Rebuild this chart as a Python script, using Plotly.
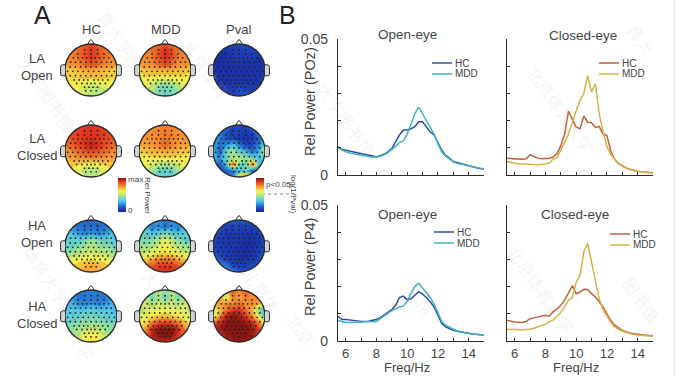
import plotly.graph_objects as go

W, H = 678, 376
def px(x): return x / W
def py(y): return 1 - y / H

# ---------- Panel B data ----------
FREQ = [5.5,5.75,6,6.25,6.5,6.75,7,7.25,7.5,7.75,8,8.25,8.5,8.75,9,9.25,9.5,9.75,10,10.25,10.5,10.75,11,11.25,11.5,11.75,12,12.25,12.5,12.75,13,13.25,13.5,13.75,14,14.25,14.5,14.75,15]

POZ_OPEN_HC = [.0103,.0094,.0091,.0088,.0085,.0082,.0079,.0077,.0075,.0070,.0066,.0070,.0076,.0085,.0097,.0122,.0147,.0165,.0165,.0170,.0178,.0196,.0196,.0177,.0159,.0147,.0116,.0091,.0073,.0060,.0050,.0046,.0042,.0037,.0033,.0030,.0027,.0024,.0022]
POZ_OPEN_MDD = [.0100,.0092,.0085,.0081,.0078,.0075,.0072,.0070,.0068,.0066,.0066,.0069,.0074,.0082,.0092,.0105,.0120,.0125,.0150,.0185,.0225,.0250,.0225,.0205,.0180,.0150,.0115,.0085,.0070,.0058,.0048,.0043,.0040,.0036,.0032,.0029,.0026,.0024,.0022]
POZ_CLOSED_HC = [.0062,.0060,.0059,.0059,.0058,.0060,.0074,.0068,.0062,.0060,.0060,.0062,.0066,.0078,.0108,.0150,.0235,.0205,.0176,.0170,.0217,.0194,.0192,.0175,.0178,.0151,.0145,.0089,.0058,.0043,.0033,.0026,.0021,.0017,.0014,.0012,.0010,.0009,.0008]
POZ_CLOSED_MDD = [.0050,.0046,.0043,.0041,.0040,.0040,.0039,.0038,.0038,.0039,.0040,.0045,.0058,.0064,.0090,.0120,.0150,.0195,.0235,.0275,.0300,.0365,.0305,.0335,.0225,.0160,.0105,.0075,.0058,.0043,.0032,.0025,.0020,.0016,.0013,.0011,.0009,.0008,.0007]
P4_OPEN_HC = [.0091,.0079,.0079,.0078,.0076,.0074,.0072,.0072,.0073,.0076,.0079,.0086,.0095,.0105,.0115,.0131,.0160,.0165,.0152,.0155,.0168,.0181,.0172,.0160,.0144,.0125,.0095,.0064,.0052,.0045,.0039,.0036,.0033,.0030,.0028,.0026,.0025,.0023,.0022]
P4_OPEN_MDD = [.0075,.0071,.0068,.0068,.0068,.0069,.0070,.0071,.0072,.0072,.0072,.0082,.0092,.0102,.0112,.0118,.0125,.0128,.0145,.0175,.0200,.0212,.0195,.0180,.0160,.0135,.0105,.0072,.0058,.0050,.0042,.0037,.0033,.0030,.0028,.0026,.0024,.0023,.0022]
P4_CLOSED_HC = [.0076,.0072,.0070,.0069,.0068,.0072,.0082,.0085,.0088,.0091,.0095,.0091,.0107,.0118,.0131,.0150,.0175,.0203,.0174,.0180,.0190,.0189,.0174,.0162,.0144,.0125,.0100,.0076,.0058,.0047,.0039,.0034,.0029,.0027,.0025,.0023,.0021,.0019,.0018]
P4_CLOSED_MDD = [.0043,.0042,.0041,.0041,.0041,.0042,.0043,.0047,.0052,.0057,.0062,.0070,.0078,.0090,.0105,.0125,.0150,.0160,.0215,.0242,.0328,.0358,.0290,.0215,.0155,.0115,.0090,.0070,.0052,.0043,.0036,.0031,.0027,.0024,.0022,.0020,.0019,.0018,.0017]

X_TICKS = [6,7,8,9,10,11,12,13,14,15]
X_LABELS = ["6","","8","","10","","12","","14",""]
Y_TICKS = [0,.01,.02,.03,.04,.05]
Y_LABELS = ["0","","","","","0.05"]

BLUE, TEAL, RUST, GOLD = "#2b4f9e", "#3fb2c2", "#bf6040", "#d6b244"

# ---------- Panel A data: scalp maps, front of head in first row ----------
GRID_X = [-1,-.75,-.5,-.25,0,.25,.5,.75,1]
GRID_Y = [1,.75,.5,.25,0,-.25,-.5,-.75,-1]

LA_OPEN_HC = [
[.80,.80,.82,.84,.88,.84,.82,.80,.80],
[.78,.80,.82,.86,.90,.86,.82,.80,.78],
[.76,.78,.80,.86,.90,.86,.80,.78,.76],
[.74,.76,.78,.82,.86,.82,.78,.76,.74],
[.66,.68,.70,.72,.73,.72,.70,.68,.66],
[.64,.66,.67,.68,.68,.68,.67,.66,.64],
[.62,.63,.62,.58,.56,.58,.60,.62,.62],
[.62,.62,.58,.52,.50,.50,.52,.58,.60],
[.62,.62,.60,.54,.52,.50,.50,.54,.58]]
LA_OPEN_MDD = [
[.78,.78,.80,.82,.86,.82,.80,.78,.78],
[.76,.78,.80,.86,.92,.86,.80,.78,.76],
[.76,.78,.79,.86,.92,.86,.79,.78,.76],
[.74,.76,.77,.82,.88,.82,.77,.76,.74],
[.66,.68,.70,.71,.72,.71,.70,.68,.66],
[.62,.64,.64,.62,.62,.62,.64,.64,.62],
[.60,.60,.55,.48,.46,.48,.55,.60,.60],
[.60,.58,.48,.40,.38,.40,.46,.56,.60],
[.62,.60,.50,.42,.38,.40,.46,.54,.60]]
LA_OPEN_P = [
[.08,.08,.08,.10,.12,.12,.10,.10,.08],
[.06,.06,.06,.08,.10,.10,.12,.10,.08],
[.05,.04,.05,.06,.08,.08,.08,.06,.06],
[.05,.04,.04,.05,.05,.05,.05,.05,.05],
[.05,.04,.04,.04,.05,.04,.04,.05,.05],
[.05,.04,.04,.04,.05,.04,.05,.05,.06],
[.06,.05,.05,.06,.06,.06,.06,.06,.06],
[.06,.06,.08,.10,.14,.12,.08,.07,.06],
[.06,.06,.08,.10,.12,.14,.10,.08,.06]]
LA_CLOSED_HC = [
[.88,.88,.89,.89,.90,.89,.89,.88,.88],
[.86,.88,.89,.90,.90,.90,.89,.88,.86],
[.84,.86,.88,.90,.91,.90,.88,.86,.84],
[.80,.84,.87,.91,.95,.91,.87,.84,.80],
[.76,.78,.82,.86,.88,.86,.82,.78,.76],
[.72,.74,.76,.77,.78,.77,.76,.74,.72],
[.68,.68,.66,.62,.60,.62,.66,.68,.68],
[.64,.62,.56,.50,.48,.50,.56,.62,.64],
[.64,.62,.60,.54,.52,.54,.60,.62,.64]]
LA_CLOSED_MDD = [
[.76,.76,.76,.78,.80,.78,.76,.76,.76],
[.75,.76,.76,.78,.80,.78,.76,.76,.75],
[.74,.75,.76,.78,.80,.78,.76,.75,.74],
[.72,.73,.75,.78,.82,.78,.75,.73,.72],
[.66,.68,.70,.72,.73,.72,.70,.68,.66],
[.61,.62,.63,.64,.64,.64,.63,.62,.61],
[.60,.60,.56,.50,.48,.50,.56,.60,.60],
[.60,.56,.46,.38,.36,.38,.46,.56,.60],
[.60,.56,.46,.36,.34,.36,.46,.56,.60]]
LA_CLOSED_P = [
[.20,.20,.20,.12,.14,.12,.25,.25,.20],
[.22,.18,.14,.08,.10,.06,.10,.22,.25],
[.28,.20,.12,.10,.08,.05,.08,.16,.30],
[.28,.16,.24,.32,.18,.10,.12,.20,.45],
[.30,.14,.38,.48,.35,.28,.16,.30,.55],
[.30,.24,.40,.46,.50,.44,.40,.30,.38],
[.22,.14,.30,.86,.40,.38,.86,.30,.22],
[.20,.12,.14,.16,.30,.34,.12,.16,.22],
[.18,.16,.20,.24,.70,.98,.72,.20,.20]]
HA_OPEN_HC = [
[.20,.18,.20,.18,.16,.18,.20,.18,.20],
[.26,.22,.18,.16,.18,.16,.18,.22,.26],
[.34,.30,.24,.20,.24,.20,.24,.30,.34],
[.34,.36,.36,.40,.46,.40,.36,.36,.30],
[.36,.38,.42,.46,.52,.46,.44,.40,.36],
[.44,.46,.50,.52,.54,.52,.52,.48,.44],
[.54,.58,.60,.62,.62,.62,.60,.56,.52],
[.62,.63,.68,.72,.74,.72,.68,.64,.60],
[.63,.66,.70,.72,.70,.70,.68,.66,.62]]
HA_OPEN_MDD = [
[.32,.28,.24,.22,.18,.22,.24,.28,.32],
[.36,.30,.20,.24,.18,.24,.20,.30,.36],
[.40,.36,.32,.34,.42,.34,.32,.34,.40],
[.42,.40,.42,.50,.58,.50,.42,.38,.32],
[.44,.46,.50,.56,.62,.56,.50,.46,.42],
[.50,.54,.58,.62,.63,.62,.58,.54,.50],
[.62,.66,.72,.78,.80,.78,.72,.66,.60],
[.74,.80,.86,.90,.91,.90,.86,.80,.72],
[.78,.84,.88,.90,.90,.90,.88,.84,.76]]
HA_OPEN_P = [
[.12,.12,.14,.16,.14,.16,.14,.12,.12],
[.12,.12,.10,.10,.10,.10,.10,.12,.14],
[.12,.10,.08,.08,.08,.06,.06,.08,.12],
[.12,.08,.07,.06,.06,.04,.04,.07,.12],
[.12,.08,.07,.06,.05,.02,.03,.08,.12],
[.14,.10,.08,.06,.04,.03,.05,.10,.14],
[.18,.14,.10,.07,.05,.06,.08,.12,.16],
[.26,.24,.20,.12,.10,.10,.12,.14,.16],
[.30,.30,.26,.20,.14,.12,.14,.16,.18]]
HA_CLOSED_HC = [
[.24,.22,.22,.20,.20,.20,.22,.22,.24],
[.28,.24,.18,.18,.20,.18,.18,.24,.28],
[.32,.28,.22,.20,.24,.20,.22,.28,.32],
[.32,.32,.32,.32,.36,.32,.32,.32,.32],
[.32,.34,.36,.38,.40,.38,.36,.34,.32],
[.38,.40,.42,.44,.44,.44,.42,.40,.38],
[.42,.44,.48,.52,.54,.52,.48,.44,.42],
[.44,.48,.52,.60,.63,.60,.52,.48,.44],
[.46,.48,.52,.61,.65,.63,.54,.48,.44]]
HA_CLOSED_MDD = [
[.56,.54,.50,.50,.46,.50,.50,.54,.56],
[.58,.52,.38,.50,.36,.50,.38,.52,.58],
[.58,.54,.46,.54,.50,.54,.46,.54,.58],
[.48,.54,.58,.60,.60,.60,.58,.54,.50],
[.54,.58,.62,.66,.68,.66,.62,.58,.54],
[.60,.66,.80,.88,.90,.88,.82,.68,.60],
[.66,.76,.94,1.0,1.0,1.0,.94,.78,.64],
[.78,.84,.94,1.0,1.0,.98,.90,.80,.70],
[.82,.86,.90,.92,.92,.90,.86,.80,.74]]
HA_CLOSED_P = [
[.80,.80,.78,.82,.78,.82,.78,.80,.80],
[.80,.78,.50,.80,.72,.80,.76,.80,.78],
[.76,.72,.78,.76,.80,.76,.78,.72,.60],
[.54,.70,.80,.90,.92,.80,.70,.42,.30],
[.50,.78,.96,1.0,.98,.90,.78,.56,.32],
[.86,.94,1.0,1.0,1.0,.98,.94,.78,.60],
[.90,.98,1.0,1.0,1.0,1.0,.98,.90,.78],
[.82,.90,.98,1.0,1.0,1.0,.98,.88,.80],
[.80,.86,.92,.98,1.0,.98,.92,.86,.80]]

ROWS_DATA = [
    ([LA_OPEN_HC, LA_OPEN_MDD, LA_OPEN_P], 70),
    ([LA_CLOSED_HC, LA_CLOSED_MDD, LA_CLOSED_P], 151),
    ([HA_OPEN_HC, HA_OPEN_MDD, HA_OPEN_P], 246),
    ([HA_CLOSED_HC, HA_CLOSED_MDD, HA_CLOSED_P], 316),
]
COLUMN_CENTERS = [91, 165, 239]
ELECTRODE_ROWS = [
    (.78,[-.25,0,.25]),
    (.62,[-.5,-.25,0,.25,.5]),
    (.47,[-.68,-.5,-.33,-.16,0,.16,.33,.5,.68]),
    (.30,[-.78,-.6,-.4,-.2,0,.2,.4,.6,.78]),
    (.12,[-.8,-.6,-.4,-.2,0,.2,.4,.6,.8]),
    (-.05,[-.9,-.7,-.5,-.3,-.1,.1,.3,.5,.7,.9]),
    (-.22,[-.8,-.6,-.4,-.2,0,.2,.4,.6,.8]),
    (-.38,[-.65,-.45,-.28,-.12,.12,.28,.45,.65]),
    (-.52,[-.55,-.35,-.15,0,.15,.35,.55]),
    (-.66,[-.25,-.08,.08,.25]),
    (-.8,[-.2,0,.2]),
]
ELECTRODE_X = [x for _, xs in ELECTRODE_ROWS for x in xs]
ELECTRODE_Y = [y for y, xs in ELECTRODE_ROWS for _ in xs]

SCALE = [[0,"#16249a"],[.12,"#1f48c0"],[.24,"#2f9ae0"],[.33,"#52cbe6"],[.44,"#8fe09c"],
         [.54,"#d2ec6c"],[.62,"#f8f04a"],[.72,"#f8aa38"],[.82,"#ee6a28"],[.9,"#dc3420"],[1,"#8a1410"]]

fig = go.Figure()
shapes, annotations, layout = [], [], {}
INK = "#444444"
DARK = "#2b2b2b"

def text(t, x, y, size=13, color=INK, angle=0, anchor="center", valign="middle"):
    annotations.append(dict(text=t, x=px(x), y=py(y), xref="paper", yref="paper", showarrow=False,
                            font=dict(size=size, color=color), textangle=angle, xanchor=anchor, yanchor=valign))

# watermark first so it lies under the other labels
for wx, wy, wt in [(45,95,"大学图书馆"),(130,55,"育大学图书馆"),(205,70,"北京体育"),(345,120,"大学图书馆"),
                   (560,110,"北京体育大学"),(640,40,"育大"),(55,290,"体育大学图书"),(165,300,"大学图书"),
                   (260,290,"北京体"),(420,300,"书馆"),(540,290,"北京体育大学"),(640,300,"图书馆"),(300,330,"北京"),(80,345,"大学")]:
    text(wt, wx, wy, size=17, color="rgba(190,190,190,0.17)", angle=55)

# ---------- scalp maps ----------
k = 0.5523
R = 26.0
HALF = 33.0
LIM = HALF / R
hole = (f"M{-LIM},{-LIM} L{LIM},{-LIM} L{LIM},{LIM} L{-LIM},{LIM} Z "
        f"M1,0 C1,{-k} {k},-1 0,-1 C{-k},-1 -1,{-k} -1,0 C-1,{k} {-k},1 0,1 C{k},1 1,{k} 1,0 Z")
n = 0
for grids, cy in ROWS_DATA:
    for grid, cx in zip(grids, COLUMN_CENTERS):
        n += 1
        xa, ya = f"x{n}", f"y{n}"
        layout[f"xaxis{n}"] = dict(domain=[px(cx-HALF), px(cx+HALF)], range=[-LIM, LIM], visible=False, fixedrange=True)
        layout[f"yaxis{n}"] = dict(domain=[py(cy+HALF), py(cy-HALF)], range=[-LIM, LIM], visible=False, fixedrange=True)
        hm = dict(z=grid, x=GRID_X, y=GRID_Y, xaxis=xa, yaxis=ya, colorscale=SCALE, zmin=0, zmax=1,
                  zsmooth="best", showscale=False, hoverinfo="skip")
        if n == 1:
            hm.update(showscale=True, colorbar=dict(
                x=px(118), xanchor="left", y=py(178), yanchor="top", len=34/H, lenmode="fraction",
                thickness=8, thicknessmode="pixels", xpad=0, ypad=0, outlinewidth=0,
                tickvals=[.96,.05], ticktext=["max","0"], ticks="", ticklabelposition="outside",
                tickfont=dict(size=8, color=INK)))
        if n == 3:
            hm.update(showscale=True, colorbar=dict(
                x=px(256), xanchor="left", y=py(178), yanchor="top", len=34/H, lenmode="fraction",
                thickness=8, thicknessmode="pixels", xpad=0, ypad=0, outlinewidth=0,
                tickvals=[.82], ticktext=["p<0.05"], ticks="", ticklabelposition="outside",
                tickfont=dict(size=8, color=INK)))
        fig.add_trace(go.Heatmap(**hm))
        fig.add_trace(go.Contour(z=grid, x=GRID_X, y=GRID_Y, xaxis=xa, yaxis=ya, showscale=False, hoverinfo="skip",
                                 contours=dict(coloring="none", start=.1, end=.95, size=.14),
                                 line=dict(color="rgba(40,40,40,0.3)", width=.5, smoothing=1.2)))
        fig.add_trace(go.Scatter(x=ELECTRODE_X, y=ELECTRODE_Y, xaxis=xa, yaxis=ya, mode="markers",
                                 marker=dict(size=1.8, color="#222222"), showlegend=False, hoverinfo="skip"))
        shapes.append(dict(type="path", path=hole, xref=xa, yref=ya, fillcolor="white", line_width=0, layer="above"))
        shapes.append(dict(type="circle", x0=-1, x1=1, y0=-1, y1=1, xref=xa, yref=ya, line=dict(color=DARK, width=1.4)))
        shapes.append(dict(type="path", path="M-0.13,0.99 L-0.04,1.14 Q0,1.19 0.04,1.14 L0.13,0.99", xref=xa, yref=ya, line=dict(color=DARK, width=1)))
        shapes.append(dict(type="path", path="M-1,0.2 L-1.1,0.2 Q-1.17,0.18 -1.17,0.1 L-1.17,-0.15 Q-1.17,-0.22 -1.1,-0.22 L-1,-0.22", xref=xa, yref=ya,
                           fillcolor="#d4d4d4", line=dict(color=DARK, width=1)))
        shapes.append(dict(type="path", path="M1,0.2 L1.1,0.2 Q1.17,0.18 1.17,0.1 L1.17,-0.15 Q1.17,-0.22 1.1,-0.22 L1,-0.22", xref=xa, yref=ya,
                           fillcolor="#d4d4d4", line=dict(color=DARK, width=1)))

shapes.append(dict(type="line", xref="paper", yref="paper", x0=px(256), x1=px(289), y0=py(194), y1=py(194),
                   line=dict(color="#666666", width=.8, dash="dot")))
text("Rel Power", 147, 195, size=8, angle=90)
text("log(1/Pval)", 294, 194, size=8, angle=90)

# ---------- spectra ----------
PANELS = [
    (338,484,39,175,"Open-eye",407,34,"Rel Power (POz)",102,True,False,POZ_OPEN_HC,POZ_OPEN_MDD,BLUE,TEAL,432,63),
    (507,653,39,175,"Closed-eye",583,35,None,0,False,False,POZ_CLOSED_HC,POZ_CLOSED_MDD,RUST,GOLD,599,63),
    (338,484,205,341,"Open-eye",407,214,"Rel Power (P4)",267,True,True,P4_OPEN_HC,P4_OPEN_MDD,BLUE,TEAL,434,232),
    (507,653,205,341,"Closed-eye",575,214,None,0,False,True,P4_CLOSED_HC,P4_CLOSED_MDD,RUST,GOLD,610,234),
]
for x0,x1,y0,y1,title,tx,ty,ylab,ylaby,ylabels,xlabels,hc,mdd,c1,c2,lx,ly in PANELS:
    n += 1
    xa, ya = f"x{n}", f"y{n}"
    layout[f"xaxis{n}"] = dict(domain=[px(x0),px(x1)], range=[5.5,15], anchor=ya, tickvals=X_TICKS,
        ticktext=X_LABELS if xlabels else [""]*len(X_TICKS), ticks="inside", ticklen=3, tickcolor=DARK, tickwidth=1,
        ticklabelstandoff=0, showgrid=False, zeroline=False, showline=True, linecolor=DARK, linewidth=1.3,
        tickfont=dict(size=13,color=INK), fixedrange=True)
    layout[f"yaxis{n}"] = dict(domain=[py(y1),py(y0)], range=[0,.05], anchor=xa, tickvals=Y_TICKS,
        ticktext=Y_LABELS if ylabels else [""]*6, ticks="inside", ticklen=3, tickcolor=DARK, tickwidth=1,
        ticklabelstandoff=6, showgrid=False, zeroline=False, showline=True, linecolor=DARK, linewidth=1.3,
        tickfont=dict(size=14,color=INK), fixedrange=True)
    fig.add_trace(go.Scatter(x=FREQ, y=hc, xaxis=xa, yaxis=ya, mode="lines", name="HC", line=dict(color=c1, width=1.5), showlegend=False))
    fig.add_trace(go.Scatter(x=FREQ, y=mdd, xaxis=xa, yaxis=ya, mode="lines", name="MDD", line=dict(color=c2, width=1.5), showlegend=False))
    text(title, tx, ty, size=13.5)
    if xlabels:
        text("Freq/Hz", (x0+x1)/2-4, 367.5, size=13)
    if ylab:
        text(ylab, 310, ylaby, size=14.5, angle=-90)
    for i,(nm,c) in enumerate([("HC",c1),("MDD",c2)]):
        shapes.append(dict(type="line", xref="paper", yref="paper", x0=px(lx), x1=px(lx+20), y0=py(ly+i*11), y1=py(ly+i*11), line=dict(color=c,width=1.5)))
        text(nm, lx+21, ly+i*11, size=10, anchor="left")

# ---------- labels ----------
text("A", 42, 15, size=25, color="#222222")
text("B", 287, 15, size=25, color="#222222")
for t,x,y in [("HC",91,30),("MDD",166,30),("Pval",239,29)]:
    text(t, x, y, size=13)
for a,b,y in [("LA","Open",67),("LA","Closed",147),("HA","Open",234),("HA","Closed",315)]:
    text(f"{a}<br>{b}", 37, y, size=13)

# page edge line
shapes.append(dict(type="line", xref="paper", yref="paper", x0=px(674), x1=px(674), y0=0, y1=1, line=dict(color="#eae7de", width=1.5)))

fig.update_layout(width=W, height=H, margin=dict(l=0,r=0,t=0,b=0,autoexpand=False), paper_bgcolor="white", plot_bgcolor="rgba(0,0,0,0)",
                  font=dict(family="Liberation Sans, Arial, Noto Sans CJK SC", color=INK), showlegend=False,
                  shapes=shapes, annotations=annotations, **layout)
fig.write_html("out.html", config={"displayModeBar": False},
               post_script="document.body.style.margin='0';document.body.style.overflow='hidden';")
